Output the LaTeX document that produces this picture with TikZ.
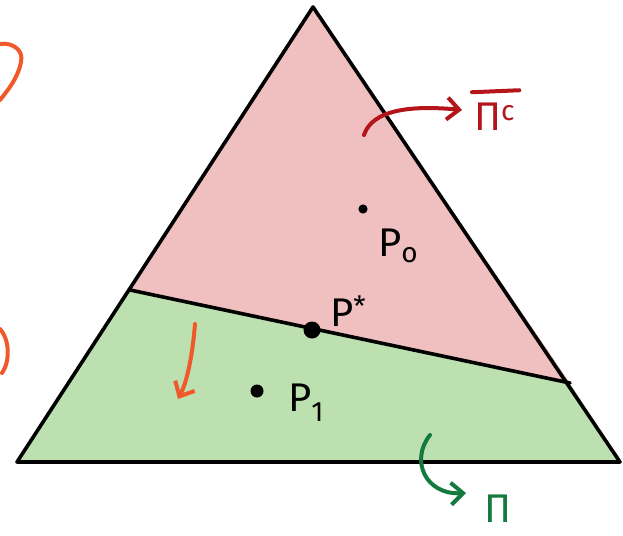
\documentclass[tikz,border=0pt]{standalone}
\usepackage{fontspec}
\setmainfont{Fira Sans}
\usetikzlibrary{arrows.meta}
\definecolor{pinkfill}{HTML}{F0C0C0}
\definecolor{greenfill}{HTML}{BCE0B0}
\definecolor{darkred}{HTML}{B3151B}
\definecolor{darkgreen}{HTML}{157A3E}
\definecolor{orangeink}{HTML}{F05A2A}
\tikzset{
  edge/.style={line width=3.6pt, line join=round, line cap=round},
  ink/.style={line width=4pt, line cap=round, line join=round},
  tip/.style={-{Straight Barb[length=12pt,width=22pt,line width=4pt]}},
  lbl/.style={font=\fontsize{40}{44}\selectfont, inner sep=0pt},
  dot/.style={circle, fill=black, inner sep=0pt}
}
\begin{document}
\begin{tikzpicture}[x=1pt,y=-1pt]
\useasboundingbox (0,0) rectangle (623,535);
% corners
\coordinate (A) at (313,7);
\coordinate (L) at (17,462);
\coordinate (R) at (620,462);
\coordinate (DL) at (130,290);
\coordinate (DR) at (570,383);
% regions
\fill[pinkfill] (A) -- (DL) -- (DR) -- cycle;
\fill[greenfill] (DL) -- (L) -- (R) -- (DR) -- cycle;
% outline
\draw[edge] (A) -- (L) -- (R) -- cycle;
\draw[edge] (DL) -- (DR);
% points
\node[dot, minimum size=17pt] (ps) at (312,330) {};
\node[circle, draw=black, fill=black, line width=2pt, minimum size=7pt, inner sep=0pt] (p0) at (363,209) {};
\node[dot, minimum size=13pt] (p1) at (257,391) {};
% labels
\node[lbl, anchor=base west] (lp0) at (378,256) {P\textsubscript{o}};
\node[lbl, anchor=base west] (lps) at (330,326) {P\textsuperscript{*}};
\node[lbl, anchor=base west] (lp1) at (288,411) {P\textsubscript{1}};
% Pi^c
\node[lbl, text=darkred, anchor=base west] (pic) at (474,130) {Π\textsuperscript{c}};
\draw[ink, darkred] ([xshift=-2pt,yshift=10pt]pic.north west) -- ([xshift=4pt,yshift=12pt]pic.north east);
\coordinate (rs) at (364,135);
\coordinate (re) at (462,110);
\draw[ink, darkred, tip] (rs) .. controls (372,110) and (410,105) .. (re);
% Pi
\node[lbl, text=darkgreen, anchor=base west] (pi) at (484,522) {Π};
\coordinate (gs) at (430,435);
\coordinate (ge) at (466,493);
\draw[ink, darkgreen, tip] (gs) .. controls (410,460) and (425,495) .. (ge);
% orange strokes
\coordinate (o1) at (0,44);
\coordinate (o2) at (0,100);
\draw[ink, orangeink] (o1) .. controls (12,42) and (24,50) .. (21,62) .. controls (18,78) and (8,90) .. (o2);
\coordinate (o3) at (0,329);
\coordinate (o4) at (2,373);
\draw[ink, orangeink] (o3) .. controls (10,340) and (10,362) .. (o4);
\coordinate (oa) at (195,324);
\coordinate (ob) at (178,399);
\draw[ink, orangeink, tip] (oa) .. controls (193,350) and (188,380) .. (ob);
\end{tikzpicture}
\end{document}
